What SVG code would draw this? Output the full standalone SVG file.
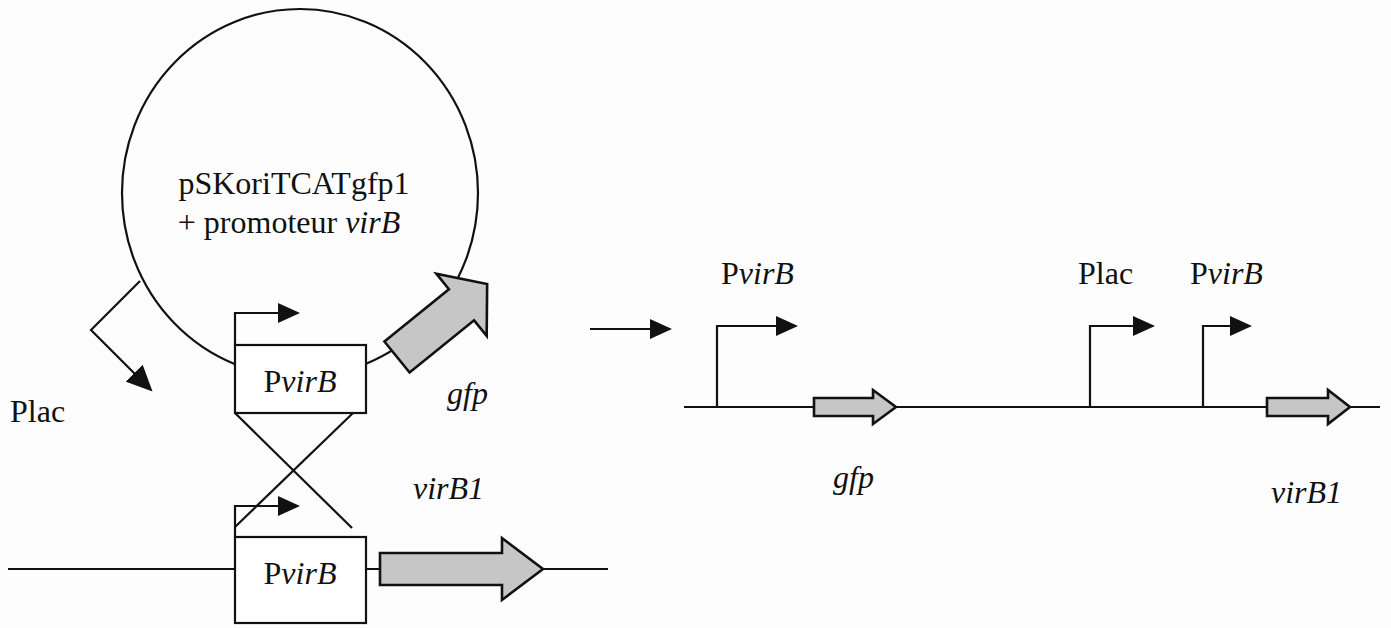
<svg xmlns="http://www.w3.org/2000/svg" width="1391" height="628" viewBox="0 0 1391 628">
<style>
.ln{fill:none;stroke:#111;stroke-width:2.2}
.box{fill:#fff;stroke:#111;stroke-width:2.2}
.gene{fill:#c6c6c6;stroke:#111;stroke-width:2.6;stroke-linejoin:miter}
.t{font-family:"Liberation Serif","Times New Roman",serif;font-size:32px;fill:#111}
.i{font-style:italic}
</style>
<defs>
<marker id="ah" viewBox="0 0 22 20" refX="18" refY="10" markerWidth="22" markerHeight="20" markerUnits="userSpaceOnUse" orient="auto">
<path d="M0,0 L22,10 L0,20 Z" fill="#111"/>
</marker>
<marker id="ahL" viewBox="0 0 26 24" refX="21" refY="12" markerWidth="26" markerHeight="24" markerUnits="userSpaceOnUse" orient="auto">
<path d="M0,0 L26,12 L0,24 Z" fill="#111"/>
</marker>
</defs>
<rect width="1391" height="628" fill="#fdfdfd"/>

<g id="plasmid">
<ellipse cx="300" cy="193" rx="178" ry="184" class="ln"/>
<text class="t" x="294" y="194" text-anchor="middle">pSKoriTCATgfp1</text>
<text class="t" x="289" y="233" text-anchor="middle">+ promoteur <tspan class="i">virB</tspan></text>
</g>

<g id="gfp-plasmid">
<path class="gene" transform="translate(397,357) rotate(-39)" d="M0,-20 H83 V-40 L116,0 L83,40 V20 H0 Z"/>
<text class="t i" x="447" y="404">gfp</text>
</g>

<g id="plac-left">
<text class="t" x="10" y="422">Plac</text>
</g>

<g id="connectors">
<polyline class="ln" points="140,281 91,330 149,388" marker-end="url(#ahL)"/>
<line class="ln" x1="8" y1="569" x2="608" y2="569"/>
<line class="ln" x1="235" y1="413" x2="352" y2="528"/>
<line class="ln" x1="353" y1="413" x2="235" y2="527"/>
<polyline class="ln" points="235,345 235,313 296,313" marker-end="url(#ah)"/>
<polyline class="ln" points="235,537 235,506 296,506" marker-end="url(#ah)"/>
<line class="ln" x1="590" y1="329" x2="668" y2="329" marker-end="url(#ah)"/>
<line class="ln" x1="684" y1="407" x2="1380" y2="407"/>
<polyline class="ln" points="717,407 717,326 794,326" marker-end="url(#ah)"/>
<polyline class="ln" points="1090,407 1090,326 1151,326" marker-end="url(#ah)"/>
<polyline class="ln" points="1203,407 1203,326 1248,326" marker-end="url(#ah)"/>
</g>

<g id="pvirB-plasmid">
<rect class="box" x="235" y="345" width="131" height="68"/>
<text class="t" x="300" y="392" text-anchor="middle">P<tspan class="i">virB</tspan></text>
</g>

<g id="pvirB-genome">
<rect class="box" x="235" y="537" width="131" height="86"/>
<text class="t" x="300" y="584" text-anchor="middle">P<tspan class="i">virB</tspan></text>
</g>

<g id="virB1-genome">
<path class="gene" d="M380,553 H502 V538 L543,569 L502,600 V585 H380 Z"/>
<text class="t i" x="413" y="499">virB1</text>
</g>

<g id="right-pvirB1">
<text class="t" x="721" y="284">P<tspan class="i">virB</tspan></text>
</g>
<g id="right-gfp">
<path class="gene" d="M814,398 H873 V390 L896,407 L873,424 V416 H814 Z"/>
<text class="t i" x="833" y="488">gfp</text>
</g>
<g id="right-plac">
<text class="t" x="1078" y="284">Plac</text>
</g>
<g id="right-pvirB2">
<text class="t" x="1190" y="284">P<tspan class="i">virB</tspan></text>
</g>
<g id="right-virB1">
<path class="gene" d="M1267,398 H1328 V390 L1350,407 L1328,424 V416 H1267 Z"/>
<text class="t i" x="1271" y="503">virB1</text>
</g>
</svg>
